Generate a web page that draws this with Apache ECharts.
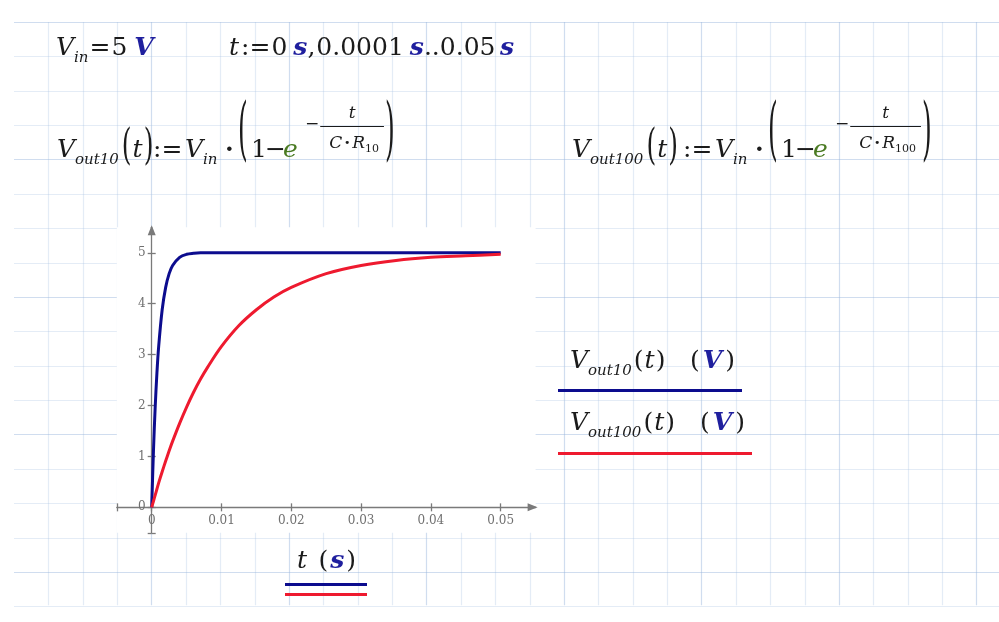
<!DOCTYPE html>
<html>
<head>
<meta charset="utf-8">
<script src="https://cdn.jsdelivr.net/npm/echarts@6/dist/echarts.min.js"></script>
<style>
  html, body { margin: 0; padding: 0; background: #fff; }
  #main { width: 999px; height: 622px; }
</style>
</head>
<body>
<div id="main"></div>
<script>
// RC charging curves, Vin = 5 V
const T_S = [0, 0.00025, 0.0005, 0.00075, 0.001, 0.0015, 0.002, 0.0025, 0.003, 0.004,
             0.005, 0.006, 0.007, 0.008, 0.01, 0.0125, 0.015, 0.0175, 0.02, 0.025,
             0.03, 0.035, 0.04, 0.045, 0.05];
const V_OUT10  = [0, 1.10, 1.97, 2.64, 3.16, 3.88, 4.32, 4.59, 4.75, 4.91,
                  4.97, 4.99, 5.0, 5.0, 5.0, 5.0, 5.0, 5.0, 5.0, 5.0,
                  5.0, 5.0, 5.0, 5.0, 5.0];
const V_OUT100 = [0, 0.12, 0.24, 0.36, 0.48, 0.70, 0.91, 1.11, 1.30, 1.65,
                  1.97, 2.26, 2.52, 2.75, 3.16, 3.57, 3.88, 4.13, 4.32, 4.59,
                  4.75, 4.85, 4.91, 4.94, 4.97];
const X_TICKS = [0, 0.01, 0.02, 0.03, 0.04, 0.05];
const Y_TICKS = [0, 1, 2, 3, 4, 5];
const X_MIN = -0.005, X_MAX = 0.055;
const Y_MIN = -0.5,   Y_MAX = 5.5;

const INK = "#1b1b1b", UNIT = "#1f1f9e", EGREEN = "#4a7a22";
const BLUE = "#0c0c8e", RED = "#ee1a2f", AXIS = "#7a7a7a";
const GRID_LIGHT = "rgba(170,195,228,0.32)", GRID_DARK = "rgba(150,180,220,0.45)";
const FS = 25, SUB = 15, EXP = 17, EXPSUB = 11;

// ── math-ish text helpers ─────────────────────────────────────────────
const mctx = document.createElement("canvas").getContext("2d");
function fontOf(p) {
  return `${p.it ? "italic " : ""}${p.bd ? "bold " : ""}${p.size || FS}px "DejaVu Serif"`;
}
function widthOf(parts) {
  let w = 0;
  for (const p of parts) {
    mctx.font = fontOf(p);
    w += (p.gap || 0) + mctx.measureText(p.t).width * (p.sx || 1);
  }
  return w;
}
function run(x, base, parts, out) {
  for (const p of parts) {
    x = p.at != null ? p.at : x + (p.gap || 0);
    const size = p.size || FS;
    const font = fontOf(p);
    mctx.font = font;
    out.push({
      type: "text", x, z: 20,
      y: p.cy != null ? p.cy : base + (p.dy || 0) - size * 0.35,
      scaleX: p.sx || 1, scaleY: p.sy || 1,
      style: { text: p.t, font, fill: p.c || INK, verticalAlign: "middle", align: "left" },
    });
    x += mctx.measureText(p.t).width * (p.sx || 1);
  }
  return x;
}
// stretch one gap so the run ends at xEnd
function runTo(x, xEnd, base, parts, gapIdx, out) {
  const extra = xEnd - x - widthOf(parts);
  const ps = parts.map((p, i) => i === gapIdx ? { ...p, gap: (p.gap || 0) + extra } : p);
  return run(x, base, ps, out);
}
function hline(x1, x2, y, color, w, out) {
  out.push({ type: "line", z: 20, shape: { x1, y1: y, x2, y2: y }, style: { stroke: color, lineWidth: w } });
}

function voutFormula(x0, base, sub, rsub, s, out) {
  const x = run(x0, base, [
    { t: "V", it: 1 },
    { t: sub, it: 1, size: SUB, dy: 6 },
    { t: "(", gap: 3, cy: base - 11, sy: 1.75 },
    { t: "t", it: 1, gap: 1 },
    { t: ")", gap: 1, cy: base - 11, sy: 1.75 },
    { t: ":=", at: x0 + 96 + s },
    { t: "V", it: 1, at: x0 + 128 + s },
    { t: "in", it: 1, size: SUB, dy: 6 },
    { t: "·", bd: 1, at: x0 + 168 + s },
    { t: "(", at: x0 + 181 + s, cy: base - 25, sy: 2.8 },
    { t: "1", at: x0 + 194 + s },
    { t: "−", at: x0 + 208 + s },
    { t: "e", it: 1, c: EGREEN, at: x0 + 226 + s },
    { t: "−", size: EXP, at: x0 + 248 + s, cy: base - 34 },
  ], out);
  const den = [
    { t: "C", it: 1, size: EXP },
    { t: "·", bd: 1, size: EXP, gap: 2 },
    { t: "R", it: 1, size: EXP, gap: 2 },
    { t: rsub, size: EXPSUB, dy: 3 },
  ];
  const barX0 = x + 1, barX1 = barX0 + widthOf(den) + 14;
  run(barX0 + 9, base - 9, den, out);
  const num = [{ t: "t", it: 1, size: EXP }];
  run((barX0 + barX1) / 2 - widthOf(num) / 2, base - 39, num, out);
  hline(barX0, barX1, base - 32.5, INK, 1, out);
  run(barX1 + 1, base, [{ t: ")", cy: base - 25, sy: 2.8 }], out);
}

function buildGraphics() {
  const g = [];
  // worksheet paper grid
  const step = 34.37, gx0 = 14, gy0 = 22, gx1 = 999, gy1 = 605.3;
  for (let k = 1; gx0 + k * step < gx1; k++) {
    const x = Math.round(gx0 + k * step) + 0.5;
    g.push({ type: "line", z: -10, silent: true, shape: { x1: x, y1: gy0, x2: x, y2: gy1 },
      style: { stroke: k % 4 === 0 ? GRID_DARK : GRID_LIGHT, lineWidth: 1.2 } });
  }
  for (let k = 0; gy0 + k * step <= gy1 + 1; k++) {
    const y = Math.round(gy0 + k * step) + 0.5;
    g.push({ type: "line", z: -10, silent: true, shape: { x1: gx0, y1: y, x2: gx1, y2: y },
      style: { stroke: k % 4 === 0 ? GRID_DARK : GRID_LIGHT, lineWidth: 1.2 } });
  }

  // Vin = 5 V    t := 0 s, 0.0001 s .. 0.05 s
  run(56, 57, [
    { t: "V", it: 1 },
    { t: "in", it: 1, size: SUB, dy: 6 },
    { t: "=", gap: 1 },
    { t: "5", gap: 1 },
    { t: "V", it: 1, bd: 1, c: UNIT, gap: 7 },
  ], g);
  runTo(229, 514, 57, [
    { t: "t", it: 1 },
    { t: ":=", gap: 2 },
    { t: "0", gap: 1 },
    { t: "s", it: 1, bd: 1, c: UNIT, gap: 6 },
    { t: "," },
    { t: "0.0001", gap: 1 },
    { t: "s", it: 1, bd: 1, c: UNIT, gap: 6 },
    { t: ".." },
    { t: "0.05" },
    { t: "s", it: 1, bd: 1, c: UNIT, gap: 6 },
  ], 9, g);

  voutFormula(57, 159, "out10", "10", 0, g);
  voutFormula(572, 159, "out100", "100", 15, g);

  // legend labels
  runTo(570, 735, 370, [
    { t: "V", it: 1 }, { t: "out10", it: 1, size: SUB, dy: 6 },
    { t: "(", gap: 2 }, { t: "t", it: 1, gap: 1 }, { t: ")", gap: 1 },
    { t: "(", gap: 10 }, { t: "V", it: 1, bd: 1, c: UNIT, gap: 3 }, { t: ")", gap: 3 },
  ], 5, g);
  hline(558, 742, 390.5, BLUE, 3, g);
  runTo(570, 745, 432, [
    { t: "V", it: 1 }, { t: "out100", it: 1, size: SUB, dy: 6 },
    { t: "(", gap: 2 }, { t: "t", it: 1, gap: 1 }, { t: ")", gap: 1 },
    { t: "(", gap: 10 }, { t: "V", it: 1, bd: 1, c: UNIT, gap: 3 }, { t: ")", gap: 3 },
  ], 5, g);
  hline(558, 752, 453.5, RED, 3, g);

  // x label
  runTo(297, 356, 570, [
    { t: "t", it: 1 }, { t: "(", gap: 14 }, { t: "s", it: 1, bd: 1, c: UNIT, gap: 2 }, { t: ")", gap: 2 },
  ], 1, g);
  hline(285, 367, 584.5, BLUE, 3, g);
  hline(285, 367, 594.5, RED, 3, g);
  return g;
}

// ── chart ─────────────────────────────────────────────────────────────
const chart = echarts.init(document.getElementById("main"), null, { renderer: "canvas" });

const GRID = { left: 116.8, right: 463.4, top: 227.3, bottom: 89.2 };
const axLine  = { color: AXIS, width: 1.3 };
const lblBase = { color: "#707070", fontFamily: "DejaVu Serif", fontSize: 12 };
const xTickVals = [X_MIN, ...X_TICKS];
const yTickVals = [Y_MIN, ...Y_TICKS];
// labels get laid out at the grid edge; pull them back to the zero-crossing axes
const X_ZERO_GAP = (0 - Y_MIN) / (Y_MAX - Y_MIN) * (622 - GRID.top - GRID.bottom);
const Y_ZERO_GAP = (0 - X_MIN) / (X_MAX - X_MIN) * (999 - GRID.left - GRID.right);

function xAx(primary) {
  return {
    type: "value", min: X_MIN, max: X_MAX, position: primary ? "bottom" : "top",
    axisLine: primary
      ? { onZero: true, symbol: ["none", "triangle"], symbolSize: [8, 10], symbolOffset: [0, -3], lineStyle: axLine }
      : { show: false, onZero: true },
    axisTick: { show: true, customValues: xTickVals, length: 4, lineStyle: axLine },
    axisLabel: primary ? { customValues: X_TICKS, margin: 8 - X_ZERO_GAP, ...lblBase } : { show: false },
    splitLine: { show: false },
  };
}
function yAx(primary) {
  return {
    type: "value", min: Y_MIN, max: Y_MAX, position: primary ? "left" : "right",
    axisLine: primary
      ? { onZero: true, symbol: ["none", "triangle"], symbolSize: [8, 10], symbolOffset: [0, -3], lineStyle: axLine }
      : { show: false, onZero: true },
    axisTick: { show: true, customValues: yTickVals, length: 4, lineStyle: axLine },
    axisLabel: primary ? { customValues: Y_TICKS, margin: 6 - Y_ZERO_GAP, ...lblBase } : { show: false },
    splitLine: { show: false },
  };
}

chart.setOption({
  backgroundColor: "#fff",
  animation: false,
  grid: {
    ...GRID, show: true, backgroundColor: "#fff", borderWidth: 0,
    containLabel: false, outerBoundsMode: "none",
  },
  xAxis: [xAx(true), xAx(false)],
  yAxis: [yAx(true), yAx(false)],
  series: [
    {
      name: "Vout10", type: "line", xAxisIndex: 0, yAxisIndex: 0,
      data: T_S.map((t, i) => [t, V_OUT10[i]]),
      showSymbol: false, smooth: 0.35,
      lineStyle: { color: BLUE, width: 3 }, itemStyle: { color: BLUE }, z: 3,
    },
    {
      name: "Vout100", type: "line", xAxisIndex: 0, yAxisIndex: 0,
      data: T_S.map((t, i) => [t, V_OUT100[i]]),
      showSymbol: false, smooth: 0.35,
      lineStyle: { color: RED, width: 3 }, itemStyle: { color: RED }, z: 4,
    },
  ],
  graphic: buildGraphics(),
});
</script>
</body>
</html>
